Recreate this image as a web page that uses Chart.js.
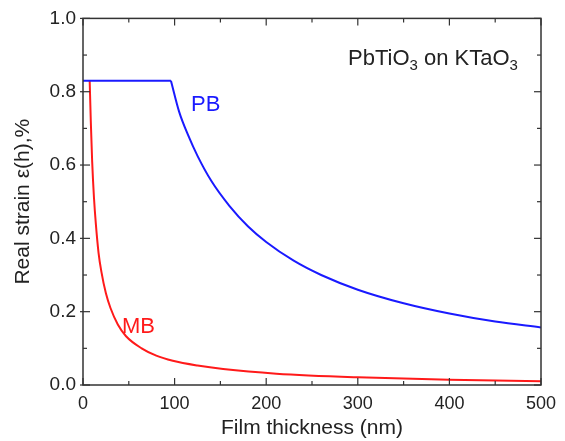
<!DOCTYPE html>
<html>
<head>
<meta charset="utf-8">
<script src="https://cdn.jsdelivr.net/npm/chart.js@4.4.0/dist/chart.umd.min.js"></script>
<style>
html,body{margin:0;padding:0;background:#fff;}
#wrap{width:565px;height:441px;}
</style>
</head>
<body>
<div id="wrap"><canvas id="strainChart"></canvas></div>
<script>
// values
const pbThickness = [0, 96, 105, 115, 125, 140, 160, 180, 200, 230, 260, 300, 350, 400, 450, 500];
const pbStrain = [0.83, 0.83, 0.745, 0.68, 0.625, 0.557, 0.488, 0.433, 0.39, 0.339, 0.30, 0.26, 0.223, 0.195, 0.173, 0.157];
const mbThickness = [7.3, 8.5, 10, 12, 14, 17, 20, 25, 30, 38, 47, 64, 80, 98, 125, 153, 211, 300, 400, 500];
const mbStrain = [0.83, 0.72, 0.61, 0.51, 0.44, 0.36, 0.31, 0.25, 0.21, 0.165, 0.133, 0.10, 0.08, 0.066, 0.053, 0.0435, 0.031, 0.021, 0.0145, 0.0105];

const xMajorTicks = [0, 100, 200, 300, 400, 500];
const xMinorTicks = [50, 150, 250, 350, 450];
const yMajorTicks = [0, 0.2, 0.4, 0.6, 0.8, 1.0];
const yMinorTicks = [0.1, 0.3, 0.5, 0.7, 0.9];

const FONT = "'Liberation Sans', Arial, sans-serif";
const BLUE = "#1a1aff";
const RED = "#ff1a1a";
const INK = "#222";

function points(xs, ys){
    return xs.map((x, i) => ({x: x, y: ys[i]}));
}

// plateau part of PB is a straight segment, the rest a smooth curve
const pbPoints = points(pbThickness, pbStrain);
const pbPlateau = pbPoints.slice(0, 2);
const pbCurve = pbPoints.slice(1);

const frameAndLabels = {
    id: "frameAndLabels",
    afterDraw(chart){
        const ctx = chart.ctx;
        const a = chart.chartArea;
        const x = chart.scales.x;
        const y = chart.scales.y;

        ctx.save();
        ctx.strokeStyle = "#333";
        ctx.lineWidth = 1.5;
        ctx.strokeRect(a.left, a.top, a.right - a.left, a.bottom - a.top);

        function seg(x1, y1, x2, y2){
            ctx.beginPath();
            ctx.moveTo(x1, y1);
            ctx.lineTo(x2, y2);
            ctx.stroke();
        }
        ctx.lineWidth = 1.2;
        xMajorTicks.forEach(v => {
            const p = x.getPixelForValue(v);
            seg(p, a.bottom, p, a.bottom - 7);
            seg(p, a.top, p, a.top + 7);
        });
        xMinorTicks.forEach(v => {
            const p = x.getPixelForValue(v);
            seg(p, a.bottom, p, a.bottom - 4);
            seg(p, a.top, p, a.top + 4);
        });
        yMajorTicks.forEach(v => {
            const p = y.getPixelForValue(v);
            seg(a.left - 3, p, a.left + 7, p);
            seg(a.right, p, a.right - 7, p);
        });
        yMinorTicks.forEach(v => {
            const p = y.getPixelForValue(v);
            seg(a.left, p, a.left + 4, p);
            seg(a.right, p, a.right - 4, p);
        });

        // sample label with subscripts
        ctx.fillStyle = INK;
        ctx.textBaseline = "alphabetic";
        ctx.textAlign = "left";
        let tx = a.left + 265;
        const ty = a.top + 47;
        const parts = [["PbTiO", false], ["3", true], [" on KTaO", false], ["3", true]];
        parts.forEach(([t, sub]) => {
            ctx.font = sub ? "15px " + FONT : "22px " + FONT;
            ctx.fillText(t, tx, sub ? ty + 5 : ty);
            tx += ctx.measureText(t).width;
        });

        ctx.font = "22px " + FONT;
        ctx.fillStyle = BLUE;
        ctx.fillText("PB", a.left + 108, a.top + 93);
        ctx.fillStyle = RED;
        ctx.fillText("MB", a.left + 39, a.top + 315);
        ctx.restore();
    }
};

new Chart(document.getElementById("strainChart"), {
    type: "line",
    data: {
        datasets: [
            {
                label: "PB",
                data: pbPlateau,
                borderColor: BLUE,
                borderWidth: 2,
                pointRadius: 0,
                tension: 0
            },
            {
                label: "PB",
                data: pbCurve,
                borderColor: BLUE,
                borderWidth: 2,
                pointRadius: 0,
                cubicInterpolationMode: "monotone"
            },
            {
                label: "MB",
                data: points(mbThickness, mbStrain),
                borderColor: RED,
                borderWidth: 2,
                pointRadius: 0,
                cubicInterpolationMode: "monotone"
            }
        ]
    },
    options: {
        responsive: true,
        maintainAspectRatio: false,
        animation: false,
        layout: {padding: {top: 16, right: 24, left: 0, bottom: 0}},
        plugins: {
            legend: {display: false},
            tooltip: {enabled: false}
        },
        scales: {
            x: {
                type: "linear",
                min: 0,
                max: 500,
                grid: {display: false, drawTicks: false},
                border: {display: false},
                afterBuildTicks: s => { s.ticks = xMajorTicks.map(v => ({value: v})); },
                ticks: {
                    padding: 8,
                    color: INK,
                    font: {family: FONT, size: 18},
                    maxRotation: 0
                },
                title: {
                    display: true,
                    text: "Film thickness (nm)",
                    color: INK,
                    font: {family: FONT, size: 21},
                    padding: {top: 3, bottom: 0}
                },
                afterFit: s => { s.height = 56; }
            },
            y: {
                type: "linear",
                min: 0,
                max: 1,
                grid: {display: false, drawTicks: false},
                border: {display: false},
                afterBuildTicks: s => { s.ticks = yMajorTicks.map(v => ({value: v})); },
                ticks: {
                    padding: 7,
                    color: INK,
                    font: {family: FONT, size: 19},
                    callback: v => Number(v).toFixed(1)
                },
                title: {
                    display: true,
                    text: "Real strain ε(h),%",
                    color: INK,
                    font: {family: FONT, size: 21},
                    padding: {top: 11, bottom: 0}
                },
                afterFit: s => { s.width = 83; }
            }
        }
    },
    plugins: [frameAndLabels]
});
</script>
</body>
</html>
